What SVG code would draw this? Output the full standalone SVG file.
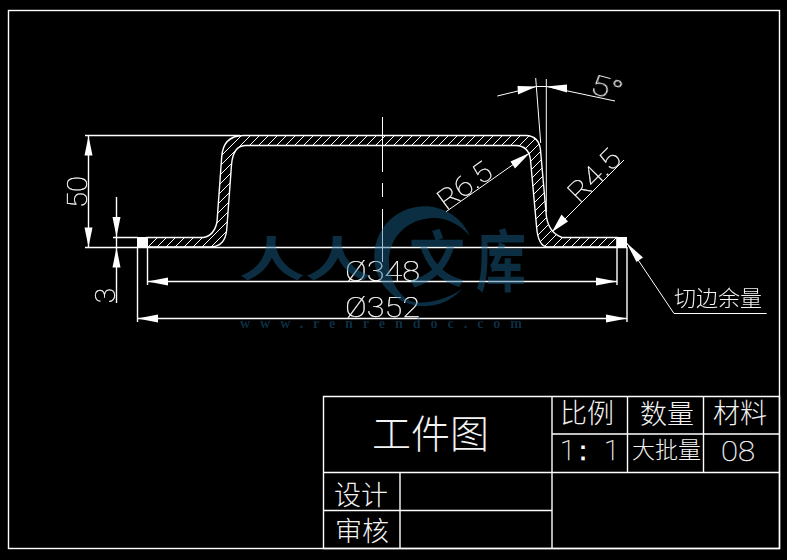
<svg xmlns="http://www.w3.org/2000/svg" width="787" height="560" viewBox="0 0 787 560">
<style>
.l{fill:none;stroke:#fff;stroke-width:1.4}
.t{fill:none;stroke:#fff;stroke-width:1}
.a{fill:#fff;stroke:none}
.d{font-family:"Roboto","Inter","Liberation Sans",sans-serif;font-weight:100;fill:#fff;stroke:#fff;stroke-width:.25;font-size:28px}
.c{font-family:"Noto Sans CJK SC","Noto Sans CJK JP",sans-serif;font-weight:300;fill:#f4f4f4}
.wm{fill:#1a6a96;opacity:.44}
.wt{font-family:"Noto Sans CJK SC","Noto Sans CJK JP",sans-serif;font-weight:700}
.gray{opacity:.995}
</style>
<defs>
<clipPath id="bend"><path d="M147,237.5 H203 Q214,236 217,222 L221.7,157 Q223,136 243,135.5 H526 Q539,136 540.5,150 L546,212 Q547,232 562,237.5 H617 V247 H548 Q538,247 536.5,226 L530.5,160 Q529,146 516,145.5 H245 Q233,146 231.5,165 L226.7,230 Q225,247 210,247 H147 Z"/></clipPath>
</defs>
<rect width="787" height="560" fill="#000"/>
<g id="frame"><rect x="8.5" y="10.5" width="771" height="538" class="l"/></g>
<g id="part">
<path clip-path="url(#bend)" class="t" d="M224,135l-112,112M233,135l-112,112M242,135l-112,112M251,135l-112,112M260,135l-112,112M269,135l-112,112M278,135l-112,112M287,135l-112,112M296,135l-112,112M305,135l-112,112M314,135l-112,112M323,135l-112,112M332,135l-112,112M341,135l-112,112M350,135l-112,112M359,135l-112,112M368,135l-112,112M377,135l-112,112M386,135l-112,112M395,135l-112,112M404,135l-112,112M413,135l-112,112M422,135l-112,112M431,135l-112,112M440,135l-112,112M449,135l-112,112M458,135l-112,112M467,135l-112,112M476,135l-112,112M485,135l-112,112M494,135l-112,112M503,135l-112,112M512,135l-112,112M521,135l-112,112M530,135l-112,112M539,135l-112,112M548,135l-112,112M557,135l-112,112M566,135l-112,112M575,135l-112,112M584,135l-112,112M593,135l-112,112M602,135l-112,112M611,135l-112,112M620,135l-112,112M629,135l-112,112M638,135l-112,112M647,135l-112,112M656,135l-112,112M665,135l-112,112M674,135l-112,112M683,135l-112,112M692,135l-112,112M701,135l-112,112M710,135l-112,112M719,135l-112,112"/>
<path d="M147,237.5 H203 Q214,236 217,222 L221.7,157 Q223,136 243,135.5 H526 Q539,136 540.5,150 L546,212 Q547,232 562,237.5 H617 V247 H548 Q538,247 536.5,226 L530.5,160 Q529,146 516,145.5 H245 Q233,146 231.5,165 L226.7,230 Q225,247 210,247 H147 Z" class="l"/>
<rect x="137" y="237" width="11" height="10.5" class="a"/>
<rect x="616.5" y="237" width="10.5" height="10.5" class="a"/>
</g>
<g id="connectors">
<path class="l" d="M85,135.5 H240 M85,247.5 H627 M113,237.5 H138"/>
<path class="t" d="M382.5,117 V172 M382.5,183 V197 M382.5,209 V262"/>
<path class="l" d="M88.5,136 V247 M116.5,197 V303 M147.5,247 V285 M617,247 V285 M137.5,247 V322 M627,247 V322 M147.5,281.5 H617 M137.5,318.5 H627"/>
<path class="a" d="M88.5,136 L92.5,155.5 H84.5 Z M88.5,247 L92.5,227.5 H84.5 Z M116.5,237 L112.5,217 H120.5 Z M116.5,247.5 L112.5,267.5 H120.5 Z M147.5,281.5 L168,277.5 V285.5 Z M617,281.5 L596,277.5 V285.5 Z M137.5,318.5 L158,314.5 V322.5 Z M627,318.5 L606,314.5 V322.5 Z"/>
<path class="t" d="M535.7,78 L540.7,143 M546.3,79 V212 M497.3,96 L536.5,86.5 H546.5 L615,101"/>
<path class="a" d="M536.5,86.5 L517.5,86 L518,94.5 Z M546.5,86.5 L567,84.5 L567,92.5 Z"/>
<path class="t" d="M446,211.7 L530,152.7 M551.7,232.3 L624,160"/>
<path class="a" d="M530,152.7 L510.5,161.5 L515,168.5 Z M551.7,232.3 L561.5,214.5 L568,221.5 Z"/>
<path class="t" d="M626.7,243 L674,313.5 H766.7"/>
<path class="a" d="M626.7,243 L643,257.5 L636.5,262 Z"/>
</g>
<g id="labels" class="gray">
<text class="d" text-anchor="middle" transform="translate(87,192) rotate(-90)" textLength="32" lengthAdjust="spacingAndGlyphs">50</text>
<text class="d" text-anchor="middle" transform="translate(115,295.5) rotate(-90)">3</text>
<text class="d" x="345" y="281" textLength="75" lengthAdjust="spacingAndGlyphs">Ø348</text>
<text class="d" x="345" y="317" textLength="75" lengthAdjust="spacingAndGlyphs">Ø352</text>
<text class="d" transform="translate(446,211) rotate(-36)" textLength="60" lengthAdjust="spacingAndGlyphs">R6.5</text>
<text class="d" transform="translate(579,204) rotate(-45)" textLength="62" lengthAdjust="spacingAndGlyphs">R4.5</text>
<text class="d" transform="translate(589,93) rotate(15)" textLength="32" lengthAdjust="spacingAndGlyphs">5°</text>
<text class="c" x="674" y="306" font-size="22">切边余量</text>
</g>
<g id="title-block">
<path class="l" d="M323.5,396.5 H779.5 V548.5 H323.5 Z M323.5,472.5 H779.5 M323.5,510.5 H552 M552,396.5 V548.5 M400,472.5 V548.5 M627.5,396.5 V472.5 M703.5,396.5 V472.5 M552,434 H779.5"/>
<g class="gray">
<text class="c" x="372" y="448" font-size="39">工件图</text>
<text class="c" x="334" y="505" font-size="27">设计</text>
<text class="c" x="335" y="541" font-size="27">审核</text>
<text class="c" x="560" y="423" font-size="27">比例</text>
<text class="c" x="640" y="424" font-size="27">数量</text>
<text class="c" x="713" y="423" font-size="27">材料</text>
<text class="d" x="560 569 604" y="460">1：1</text>
<text class="c" x="632" y="458" font-size="23">大批量</text>
<text class="d" x="721" y="461" textLength="34" lengthAdjust="spacingAndGlyphs">08</text>
</g>
</g>
<g id="watermark" class="wm">
<path d="M470,236 A50,50 0 1 0 462,289 C445,301 420,306 408,300 C392,290 384,264 392,245 C400,225 420,217 437,218 C450,219 462,227 470,236 Z"/>
<text class="wt" transform="translate(239,276) scale(1,.72)" font-size="66">人人</text>
<text class="wt" transform="translate(409,282) scale(1,1.1)" font-size="56">文</text>
<text class="wt" transform="translate(476,286) scale(1,1.35)" font-size="50">库</text>
<text x="240" y="328" font-family="Liberation Serif" font-weight="700" font-size="14" textLength="282">www.renrendoc.com</text>
</g>
</svg>
